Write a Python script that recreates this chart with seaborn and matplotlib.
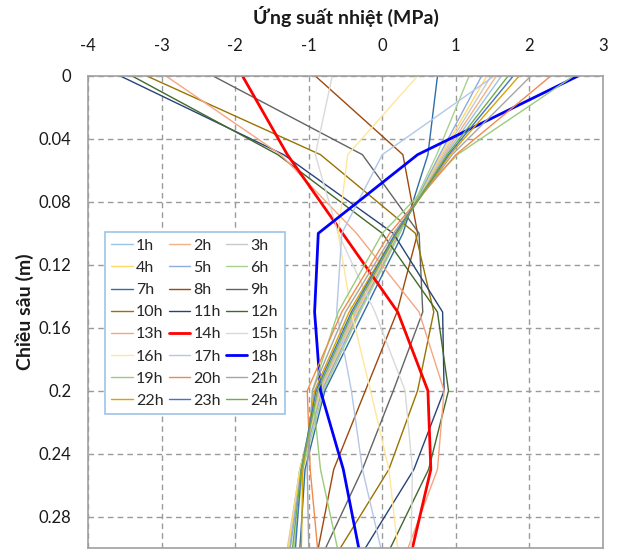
import matplotlib
matplotlib.use("Agg")
import matplotlib.pyplot as plt
import seaborn as sns
import pandas as pd

# ---- data -------------------------------------------------------------
depths = [0.00, 0.05, 0.10, 0.15, 0.20, 0.25, 0.30]
hours = [f"{i}h" for i in range(1, 25)]

h1  = [1.62, 0.86, 0.20, -0.38, -0.86, -1.12, -1.26]
h2  = [1.55, 0.84, 0.21, -0.36, -0.85, -1.12, -1.28]
h3  = [1.48, 0.82, 0.22, -0.34, -0.84, -1.12, -1.29]
h4  = [1.42, 0.80, 0.22, -0.33, -0.83, -1.12, -1.28]
h5  = [1.35, 0.78, 0.23, -0.32, -0.82, -1.10, -1.25]
h6  = [1.18, 0.74, 0.24, -0.30, -0.80, -1.08, -1.20]
h7  = [0.75, 0.62, 0.28, -0.25, -0.78, -1.05, -1.12]
h8  = [-0.91, 0.28, 0.48, 0.20, -0.23, -0.66, -0.87]
h9  = [-2.30, -0.27, 0.50, 0.55, 0.15, -0.27, -0.77]
h10 = [-3.20, -0.84, 0.45, 0.70, 0.48, 0.09, -0.57]
h11 = [-3.56, -1.34, 0.15, 0.82, 0.84, 0.43, -0.23]
h12 = [-3.40, -1.42, 0.00, 0.75, 0.90, 0.63, 0.11]
h13 = [-2.94, -1.38, -0.35, 0.50, 0.84, 0.75, 0.35]
h14 = [-1.90, -1.29, -0.54, 0.21, 0.62, 0.66, 0.41]
h15 = [-0.68, -0.91, -0.60, -0.10, 0.31, 0.41, 0.39]
h16 = [0.48, -0.47, -0.60, -0.42, -0.16, 0.09, 0.21]
h17 = [1.52, 0.00, -0.55, -0.62, -0.42, -0.27, -0.02]
h18 = [2.66, 0.48, -0.87, -0.92, -0.84, -0.53, -0.32]
h19 = [2.60, 1.02, 0.00, -0.60, -0.95, -0.84, -0.61]
h20 = [2.29, 1.00, 0.10, -0.55, -1.02, -0.98, -0.88]
h21 = [2.02, 0.95, 0.15, -0.50, -0.95, -1.02, -1.00]
h22 = [1.86, 0.92, 0.18, -0.45, -0.92, -1.08, -1.10]
h23 = [1.78, 0.90, 0.18, -0.42, -0.90, -1.10, -1.18]
h24 = [1.71, 0.88, 0.20, -0.40, -0.88, -1.10, -1.22]

series = [h1, h2, h3, h4, h5, h6, h7, h8, h9, h10, h11, h12,
          h13, h14, h15, h16, h17, h18, h19, h20, h21, h22, h23, h24]

x_ticks = [-4, -3, -2, -1, 0, 1, 2, 3]
y_ticks = [0, 0.04, 0.08, 0.12, 0.16, 0.2, 0.24, 0.28]
y_tick_labels = ["0", "0.04", "0.08", "0.12", "0.16", "0.2", "0.24", "0.28"]

colors = ["#9DC3E6", "#F4B183", "#C9C9C9", "#FFD966", "#8FAADC", "#A9D18E",
          "#2F6EA8", "#9E480E", "#636363", "#997300", "#264478", "#43682B",
          "#F7A580", "#FF0000", "#D9D9D9", "#FFE699", "#B4C7E7", "#0000FF",
          "#9BCB7B", "#F08B4B", "#A5A5A5", "#D8A400", "#4472C4", "#70AD47"]

# ---- plot -------------------------------------------------------------
sns.set_style("white")
plt.rcParams["font.family"] = ["Lato", "DejaVu Sans"]

fig = plt.figure(figsize=(6.17, 5.5), dpi=100)
ax = fig.add_axes([88 / 617, 1 - 548 / 550, (603 - 88) / 617, (548 - 76) / 550])

handles = {}
for name, vals, c in zip(hours, series, colors):
    lw = 2.0 if name in ("14h", "18h") else 1.0
    df = pd.DataFrame({"stress": vals, "depth": depths})
    sns.lineplot(data=df, x="stress", y="depth", orient="y", sort=False,
                 estimator=None, color=c, linewidth=lw, ax=ax, label=name,
                 legend=False)
    handles[name] = ax.lines[-1]

ax.set_xlim(-4, 3)
ax.set_ylim(0.30, 0)
ax.xaxis.tick_top()
ax.xaxis.set_label_position("top")
ax.set_xticks(x_ticks)
ax.set_xticklabels([str(v) for v in x_ticks])
ax.set_yticks(y_ticks)
ax.set_yticklabels(y_tick_labels)
ax.tick_params(axis="x", length=0, pad=16, labelsize=12, colors="#1a1a1a")
ax.tick_params(axis="y", length=0, pad=12, labelsize=12, colors="#1a1a1a")

ax.grid(True, color="#9a9a9a", linestyle=(0, (4, 3)), linewidth=1.0)
ax.set_axisbelow(True)
for s in ax.spines.values():
    s.set_color("#a0a0a0")
    s.set_linewidth(1.2)

ax.set_xlabel("Ứng suất nhiệt (MPa)", fontsize=14, fontweight="bold",
              labelpad=10, color="#1a1a1a")
ax.set_ylabel("Chiều sâu (m)", fontsize=14, fontweight="bold",
              labelpad=3, color="#1a1a1a")

# legend: row-major order in 3 columns
order = []
for col in range(3):
    for row in range(8):
        order.append(hours[row * 3 + col])
leg = ax.legend([handles[n] for n in order], order, ncol=3,
                loc="upper left", bbox_to_anchor=(0.033, 0.669),
                borderaxespad=0, fontsize=11.5, frameon=True, fancybox=False,
                handlelength=1.35, handletextpad=0.2, columnspacing=0.3,
                labelspacing=0.5, borderpad=0.4)
leg.get_frame().set_edgecolor("#9DC3E6")
leg.get_frame().set_linewidth(1.2)
leg.get_frame().set_facecolor("white")
leg.get_frame().set_alpha(1)

fig.savefig("out.png", dpi=100)
